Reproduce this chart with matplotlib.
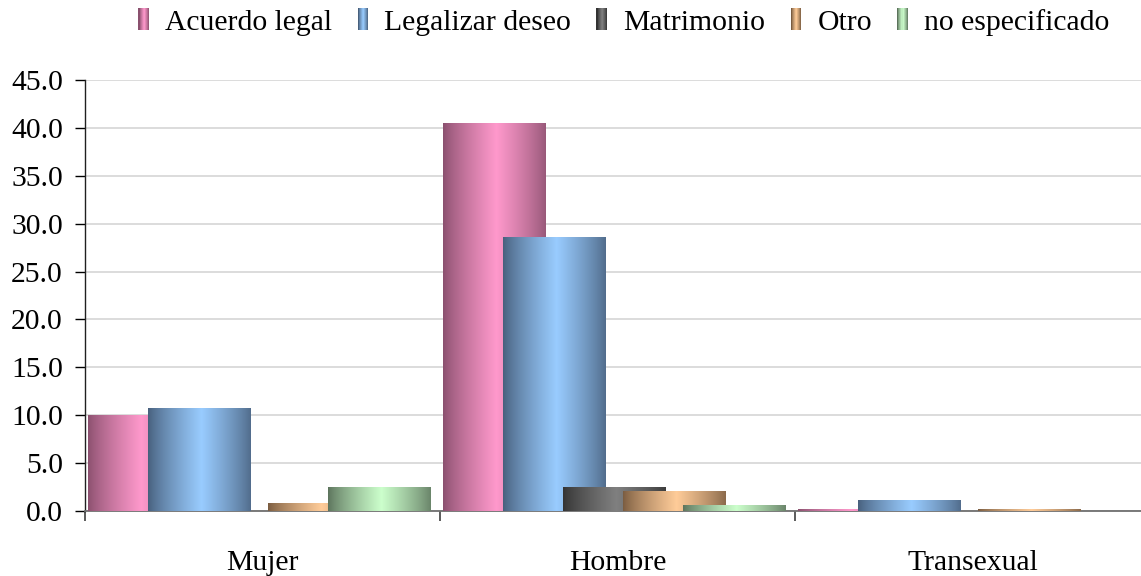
import numpy as np
import matplotlib
matplotlib.use("Agg")
import matplotlib.pyplot as plt
from matplotlib.patches import Rectangle
from matplotlib.legend_handler import HandlerBase
from matplotlib.colors import to_rgb

categories = ["Mujer", "Hombre", "Transexual"]
series_names = ["Acuerdo legal", "Legalizar deseo", "Matrimonio", "Otro", "no especificado"]
acuerdo_legal = [10.0, 40.5, 0.2]
legalizar_deseo = [10.8, 28.6, 1.2]
matrimonio = [0.0, 2.5, 0.0]
otro = [0.8, 2.1, 0.2]
no_especificado = [2.5, 0.6, 0.0]
yticks = [0, 5, 10, 15, 20, 25, 30, 35, 40, 45]

series_values = [acuerdo_legal, legalizar_deseo, matrimonio, otro, no_especificado]
dark_colors = ["#8A506E", "#475F7C", "#333333", "#7A5C40", "#5C735C"]
light_colors = ["#FF99CC", "#99CCFF", "#808080", "#FFCC99", "#CCFFCC"]

plt.rcParams['font.family'] = ['Liberation Serif', 'DejaVu Serif']
FS = 21.3

fig = plt.figure(figsize=(11.41, 5.76), dpi=100)
ax = fig.add_axes([85/1141, 65/576, 1065/1141, 431/576])

def gradient_rgb(i, n=200):
    t = np.linspace(0, 1, n)
    s = 1 - np.abs(t - 0.52) / 0.52
    s = np.clip(s, 0, 1) ** 0.8
    d = np.array(to_rgb(dark_colors[i]))
    l = np.array(to_rgb(light_colors[i]))
    return d[None, :] + (l - d)[None, :] * s[:, None]

x = np.arange(len(categories))
step = 0.169
width = 0.29
offset = -0.008
for i, vals in enumerate(series_values):
    pos = x + offset + (i - 2) * step
    bars = ax.bar(pos, vals, width=width, color='none', edgecolor='none', zorder=3 + i)
    grad = gradient_rgb(i)[None, :, :]
    for b, v in zip(bars, vals):
        if v <= 0:
            continue
        x0 = b.get_x()
        im = ax.imshow(grad, extent=[x0, x0 + width, 0, v], aspect='auto',
                       zorder=3 + i, interpolation='bilinear', origin='lower')
        im.set_clip_path(b)

ax.set_xlim(-0.5, 2.5)
ax.set_ylim(0, 45)
ax.set_yticks(yticks)
ax.set_yticklabels([f"{v:.1f}" for v in yticks], fontsize=FS)
ax.yaxis.grid(True, color='#D9D9D9', linewidth=1.3, zorder=0)
ax.set_axisbelow(True)

ax.set_xticks(x)
ax.set_xticklabels(categories, fontsize=FS)
ax.tick_params(axis='x', which='major', length=0, pad=28)
ax.set_xticks([-0.5, 0.5, 1.5], minor=True)
ax.tick_params(axis='x', which='minor', length=7, width=1.2, color='#404040', direction='out')
ax.tick_params(axis='y', length=7, width=1.0, direction='out', pad=9)

for s in ['top', 'right']:
    ax.spines[s].set_visible(False)
ax.spines['left'].set_color('#202020')
ax.spines['left'].set_linewidth(1.0)
ax.spines['bottom'].set_color('#707070')
ax.spines['bottom'].set_linewidth(1.3)
ax.spines['bottom'].set_zorder(2.5)


class GradHandler(HandlerBase):
    def __init__(self, idx):
        super().__init__()
        self.idx = idx

    def create_artists(self, legend, orig_handle, xdescent, ydescent, width, height, fontsize, trans):
        cols = gradient_rgb(self.idx, n=10)
        arts = []
        w = width / len(cols)
        for k, c in enumerate(cols):
            r = Rectangle((-xdescent + k * w, -ydescent), w * 1.05, height,
                          facecolor=c, edgecolor='none', transform=trans)
            arts.append(r)
        return arts

handles = [Rectangle((0, 0), 1, 1) for _ in series_names]
handler_map = {h: GradHandler(i) for i, h in enumerate(handles)}
fig.legend(handles, series_names, loc='center', bbox_to_anchor=(624/1141, 1 - 22/576),
           ncol=5, frameon=False, fontsize=FS, handler_map=handler_map,
           handlelength=0.36, handleheight=0.75, handletextpad=0.55, columnspacing=0.85,
           borderpad=0, borderaxespad=0)

fig.savefig("out.png", dpi=100)
